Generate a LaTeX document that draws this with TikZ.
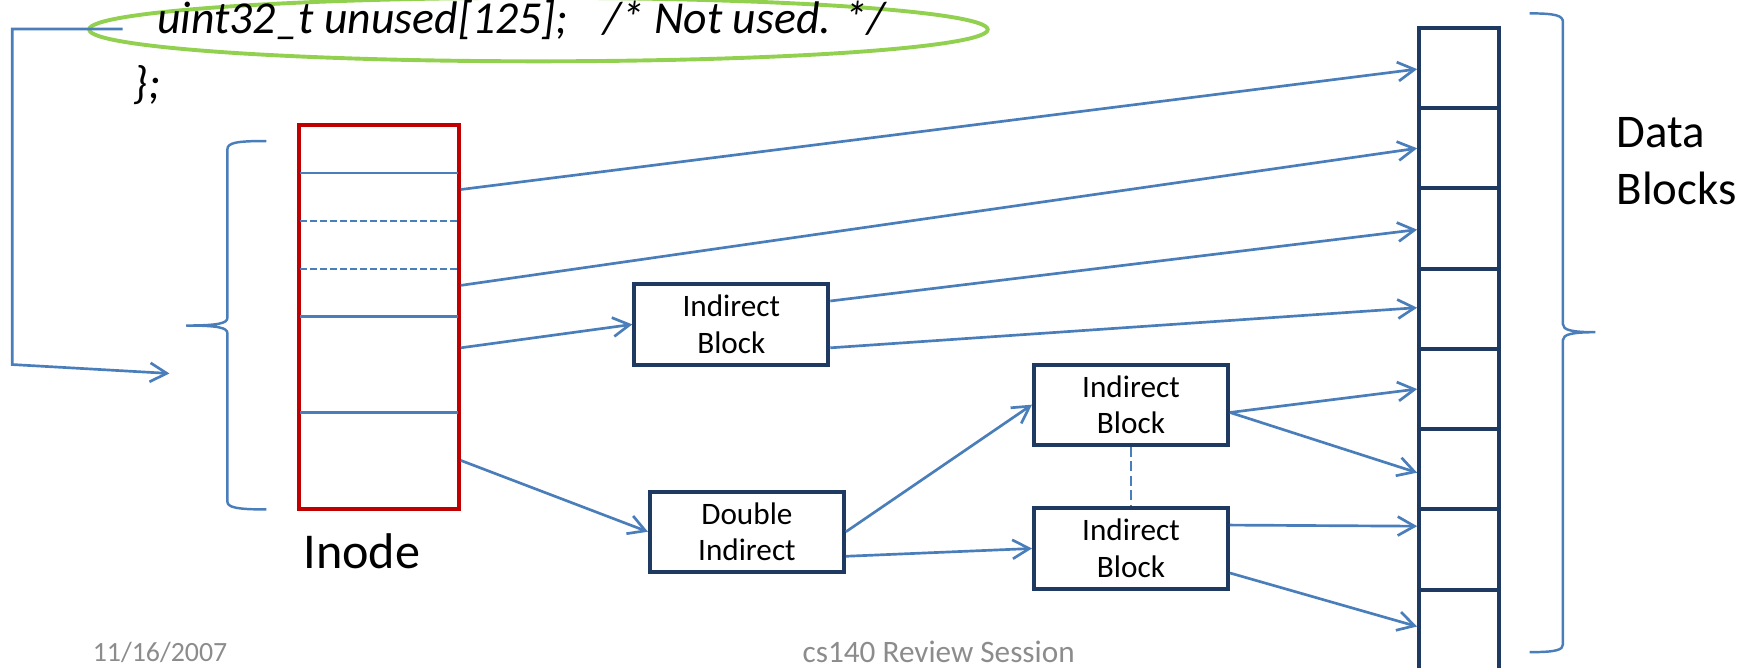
\documentclass[tikz,border=0pt]{standalone}
\usepackage{fontspec}
\setmainfont{Carlito}
\usetikzlibrary{arrows.meta,calc,shapes.geometric}
\definecolor{lblue}{HTML}{4A7EBB}
\definecolor{navy}{HTML}{1F3A60}
\definecolor{ired}{HTML}{C00000}
\definecolor{lgreen}{HTML}{92D050}
\definecolor{fgrey}{HTML}{8C8C8C}
\begin{document}
\begin{tikzpicture}[x=1pt,y=-1pt,
  conn/.style={draw=lblue, line width=2.4pt},
  arr/.style={conn, -{Straight Barb[length=15pt,width=17pt]}},
  blk/.style={draw=navy, line width=3.6pt, minimum width=174pt, minimum height=72pt, inner sep=0pt, align=center, font=\fontsize{28}{33}\selectfont},
  cell/.style={draw=navy, line width=3.6pt, minimum size=72pt, inner sep=0pt},
  lbl/.style={inner sep=0pt, anchor=base west},
  ]
\useasboundingbox (0,0) rectangle (1568,599);

% code fragment with highlight oval
\node[ellipse, draw=lgreen, line width=3.5pt, minimum width=806pt, minimum height=57pt, inner sep=0pt] (oval) at (483,26.5) {};
\node[lbl, font=\itshape\fontsize{41}{49}\selectfont] (code) at (141,30) {uint32\_t unused[125];\hspace{32pt}/* Not used.\hspace{12pt}*/};
\node[lbl, font=\itshape\fontsize{41}{49}\selectfont] (close) at (120,88) {\};};

% connector from code to inode brace
\coordinate (cstart) at (110,26);
\coordinate (cend) at (152,335);
\draw[arr] (cstart) -- (11,26) -- (11,327) -- (cend);

% left brace
\draw[conn, line width=2.2pt] (239,126.5) .. controls (212,126.5) and (204,128) .. (204,134) -- (204,285)
  .. controls (204,290) and (196,292) .. (167,292)
  .. controls (196,292) and (204,294) .. (204,299) -- (204,450)
  .. controls (204,455) and (212,457) .. (239,457);

% inode
\node[draw=ired, line width=3.6pt, minimum width=143.5pt, minimum height=344pt, inner sep=0pt] (inode) at (339.75,284.4) {};
\draw[conn, line width=2pt] (269,155) -- (411,155);
\draw[conn, line width=2pt, dash pattern=on 6pt off 3pt] (269,198) -- (411,198);
\draw[conn, line width=2pt, dash pattern=on 6pt off 3pt] (269,241) -- (411,241);
\draw[conn, line width=2pt] (269,284) -- (411,284);
\draw[conn, line width=2pt] (269,370) -- (411,370);
\node[lbl, font=\fontsize{45}{54}\selectfont] (ilabel) at (272,510) {Inode};

% blocks
\node[blk] (ib1) at (656,291) {Indirect\\Block};
\node[blk] (di) at (670,477) {Double\\Indirect};
\node[blk] (ib2) at (1014.5,363) {Indirect\\Block};
\node[blk] (ib3) at (1014.5,492) {Indirect\\Block};

% data blocks
\foreach \i in {1,...,8} \node[cell] (c\i) at (1309,{61+72*(\i-1)}) {};

% right brace
\draw[conn, line width=2.2pt] (1372,12) .. controls (1396,12) and (1402,14) .. (1402,20) -- (1402,291)
  .. controls (1402,296) and (1410,298) .. (1431,298)
  .. controls (1410,298) and (1402,300) .. (1402,305) -- (1402,578)
  .. controls (1402,583) and (1396,585) .. (1372,585);
\node[inner sep=0pt, anchor=north west, align=left, font=\fontsize{42}{51.5}\selectfont] (dlabel) at (1450,105) {Data\\Blocks};

% connectors
\draw[arr] ($(inode.east)+(0,-114.4)$) -- ($(c1.west)+(0,1)$);
\draw[arr] ($(inode.east)+(0,-28.4)$) -- (c2.west);
\draw[arr] ($(ib1.east)+(0,-21)$) -- ($(c3.west)+(0,1)$);
\draw[arr] ($(ib1.east)+(0,21)$) -- ($(c4.west)+(0,-1)$);
\draw[arr] ($(inode.east)+(0,27.6)$) -- (ib1.west);
\draw[arr] ($(inode.east)+(0,128.6)$) -- (di.west);
\draw[arr] (di.east) -- (ib2.west);
\draw[arr] ($(di.east)+(0,22)$) -- (ib3.west);
\draw[arr] ($(ib2.east)+(0,7)$) -- (c5.west);
\draw[arr] ($(ib2.east)+(0,7)$) -- ($(c6.west)+(0,3)$);
\draw[arr] ($(ib3.east)+(0,-21)$) -- ($(c7.west)+(0,-21)$);
\draw[arr] ($(ib3.east)+(0,22)$) -- ($(c8.west)+(0,-3)$);
\draw[conn, line width=2.6pt, dash pattern=on 9pt off 4pt] (ib2.south) -- (ib3.north);

% footer
\node[lbl, font=\fontsize{25}{30}\selectfont, text=fgrey] (date) at (83,593) {11/16/2007};
\node[inner sep=0pt, anchor=base, font=\fontsize{28}{34}\selectfont, text=fgrey] (title) at (842,594) {cs140 Review Session};
\end{tikzpicture}
\end{document}
